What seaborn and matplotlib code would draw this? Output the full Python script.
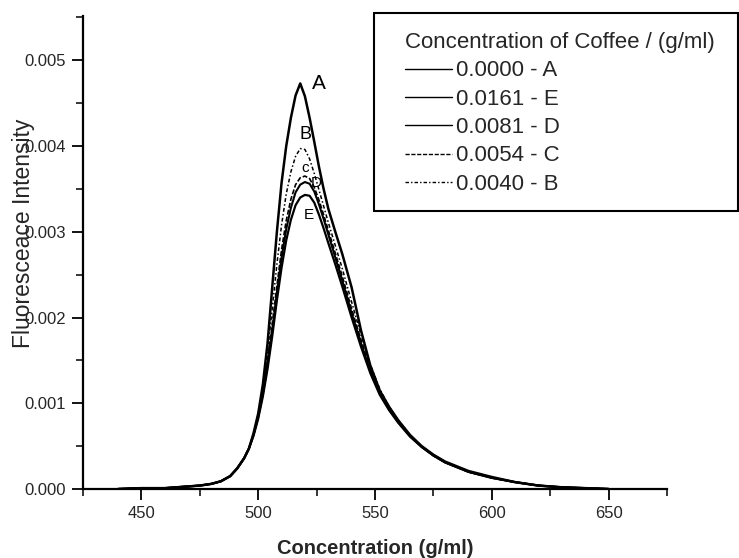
import matplotlib
matplotlib.use("Agg")
import matplotlib.pyplot as plt
from matplotlib.patches import Rectangle
from matplotlib.ticker import MultipleLocator, FormatStrFormatter
import pandas as pd
import seaborn as sns

# Emission wavelength grid (nm)
wavelength = [440, 450, 460, 465, 470, 475, 480, 484, 488, 491, 494, 496, 498,
              500, 502, 504, 506, 508, 510, 512, 514, 516, 518, 520, 522, 524,
              526, 528, 530, 533, 536, 540, 544, 548, 552, 556, 560, 565, 570,
              575, 580, 590, 600, 610, 620, 630, 640, 650]

# Fluorescence intensity, one list per coffee concentration
curve_a = [0, 0.00001, 0.00001, 0.00002, 0.00003, 0.00004, 0.00006, 0.00009,
           0.00015, 0.00024, 0.00036, 0.00047, 0.00065, 0.00088, 0.00122,
           0.00170, 0.00235, 0.00300, 0.00357, 0.00400, 0.00433, 0.00459,
           0.00473, 0.00458, 0.00433, 0.00405, 0.00376, 0.00350, 0.00327,
           0.00300, 0.00274, 0.00235, 0.00185, 0.00144, 0.00115, 0.00096,
           0.00080, 0.00063, 0.00050, 0.00040, 0.00032, 0.00021, 0.00014,
           0.00008, 0.00004, 0.00002, 0.00001, 0]
curve_e = [0, 0.00001, 0.00001, 0.00002, 0.00003, 0.00004, 0.00006, 0.00009,
           0.00015, 0.00024, 0.00036, 0.00047, 0.00062, 0.00082, 0.00108,
           0.00140, 0.00178, 0.00220, 0.00258, 0.00290, 0.00314, 0.00331,
           0.00340, 0.00343, 0.00342, 0.00334, 0.00320, 0.00304, 0.00287,
           0.00262, 0.00236, 0.00200, 0.00166, 0.00135, 0.00110, 0.00092,
           0.00077, 0.00061, 0.00049, 0.00039, 0.00031, 0.00020, 0.00013,
           0.00008, 0.00004, 0.00002, 0.00001, 0]
curve_d = [0, 0.00001, 0.00001, 0.00002, 0.00003, 0.00004, 0.00006, 0.00009,
           0.00015, 0.00024, 0.00036, 0.00047, 0.00063, 0.00084, 0.00111,
           0.00145, 0.00185, 0.00229, 0.00270, 0.00303, 0.00328, 0.00346,
           0.00355, 0.00358, 0.00356, 0.00347, 0.00332, 0.00315, 0.00297,
           0.00270, 0.00243, 0.00205, 0.00170, 0.00138, 0.00112, 0.00093,
           0.00078, 0.00062, 0.00049, 0.00039, 0.00031, 0.00020, 0.00013,
           0.00008, 0.00004, 0.00002, 0.00001, 0]
curve_c = [0, 0.00001, 0.00001, 0.00002, 0.00003, 0.00004, 0.00006, 0.00009,
           0.00015, 0.00024, 0.00036, 0.00047, 0.00064, 0.00086, 0.00114,
           0.00150, 0.00192, 0.00237, 0.00279, 0.00313, 0.00338, 0.00355,
           0.00363, 0.00365, 0.00362, 0.00352, 0.00337, 0.00320, 0.00302,
           0.00275, 0.00248, 0.00210, 0.00174, 0.00140, 0.00114, 0.00094,
           0.00079, 0.00062, 0.00049, 0.00039, 0.00031, 0.00020, 0.00013,
           0.00008, 0.00004, 0.00002, 0.00001, 0]
curve_b = [0, 0.00001, 0.00001, 0.00002, 0.00003, 0.00004, 0.00006, 0.00009,
           0.00015, 0.00024, 0.00036, 0.00047, 0.00064, 0.00087, 0.00118,
           0.00160, 0.00210, 0.00262, 0.00308, 0.00344, 0.00370, 0.00388,
           0.00397, 0.00396, 0.00385, 0.00368, 0.00349, 0.00330, 0.00311,
           0.00284, 0.00257, 0.00218, 0.00180, 0.00145, 0.00117, 0.00096,
           0.00080, 0.00063, 0.00049, 0.00039, 0.00031, 0.00020, 0.00013,
           0.00008, 0.00004, 0.00002, 0.00001, 0]

series_labels = ["0.0000 - A", "0.0161 - E", "0.0081 - D", "0.0054 - C", "0.0040 - B"]
series_values = [curve_a, curve_e, curve_d, curve_c, curve_b]
series_styles = ["-", "-", "-", (0, (3, 1.2)), (0, (2.5, 1.5, 1, 1.5))]
series_widths = [1.8, 1.6, 1.5, 1.2, 1.1]

# Letters written next to the peaks
peak_letters = ["A", "B", "c", "D", "E"]
peak_x = [525.8, 520.3, 520.0, 525.0, 521.8]
peak_y = [0.00473, 0.00413, 0.00374, 0.00357, 0.00319]
peak_sizes = [15, 13, 11, 11, 11]

sns.set_theme(style="white")
plt.rcParams["font.family"] = ["Liberation Sans", "DejaVu Sans"]

fig = plt.figure(figsize=(7.39, 5.58), dpi=100)
ax = fig.add_axes([83 / 739, 1 - 489 / 558, (667 - 83) / 739, (489 - 15.7) / 558])

for label, vals, ls, lw in zip(series_labels, series_values, series_styles, series_widths):
    df = pd.DataFrame({"wavelength": wavelength, "intensity": vals})
    sns.lineplot(data=df, x="wavelength", y="intensity", ax=ax, color="black",
                 linewidth=lw, linestyle=ls, label=label)

for letter, px, py, fs in zip(peak_letters, peak_x, peak_y, peak_sizes):
    ax.text(px, py, letter, fontsize=fs, color="black", ha="center", va="center")

ax.set_xlim(425, 675)
ax.set_ylim(0, 0.00552)
ax.xaxis.set_major_locator(MultipleLocator(50))
ax.xaxis.set_minor_locator(MultipleLocator(25))
ax.yaxis.set_major_locator(MultipleLocator(0.001))
ax.yaxis.set_minor_locator(MultipleLocator(0.0005))
ax.yaxis.set_major_formatter(FormatStrFormatter("%.3f"))

for side in ["top", "right"]:
    ax.spines[side].set_visible(False)
for side in ["left", "bottom"]:
    ax.spines[side].set_color("black")
    ax.spines[side].set_linewidth(1.6)

ax.tick_params(axis="both", which="major", direction="out", length=8, width=1.3,
               color="black", labelsize=12, pad=4, left=True, bottom=True)
ax.tick_params(axis="both", which="minor", direction="out", length=5, width=1.1,
               color="black", left=True, bottom=True)

ax.set_xlabel("Concentration (g/ml)", fontsize=14.5, fontweight="bold", labelpad=13)
ax.set_ylabel("")
fig.text(24 / 739, 1 - 233 / 558, "Fluoresceace Intensity", rotation=90,
         fontsize=16.5, ha="center", va="center")

# Legend box drawn in figure coordinates
fig.patches.append(Rectangle((374 / 739, 1 - 211 / 558), 364 / 739, 198 / 558,
                             transform=fig.transFigure, fill=False,
                             edgecolor="black", linewidth=1.5))
leg = ax.legend(title="Concentration of Coffee / (g/ml)",
                loc="upper left", bbox_to_anchor=(405 / 739, 1 - 32 / 558),
                bbox_transform=fig.transFigure, borderaxespad=0, borderpad=0,
                fontsize=16, title_fontsize=16, frameon=False,
                handlelength=2.1, handletextpad=0.2, labelspacing=0.33,
                alignment="left")
for line in leg.get_lines():
    line.set_linewidth(1.0)

fig.savefig("out.png", dpi=100, facecolor="white")
